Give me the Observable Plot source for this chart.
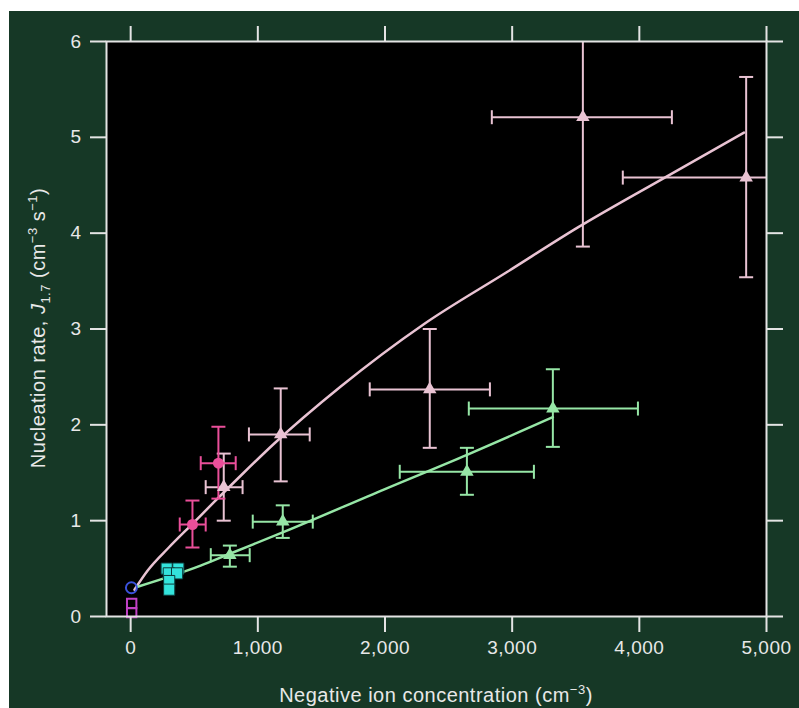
<!DOCTYPE html>
<html><head><meta charset="utf-8">
<script src="https://cdn.jsdelivr.net/npm/d3@7"></script>
<script src="https://cdn.jsdelivr.net/npm/@observablehq/plot@0.6"></script>
<style>
html,body{margin:0;padding:0;background:#fff;}
#chart{position:absolute;left:9px;top:11px;width:790px;height:697px;background:#163826;}
</style></head><body><div id="chart"></div>
<script>
// ---- data ----
const xTicks = [0, 1000, 2000, 3000, 4000, 5000];
const yTicks = [0, 1, 2, 3, 4, 5, 6];

// pink triangles (with error bars)
const pinkX   = [1180, 732, 2352, 3556, 4840];
const pinkY   = [1.90, 1.35, 2.37, 5.21, 4.58];
const pinkXLo = [930, 590, 1880, 2840, 3870];
const pinkXHi = [1408, 880, 2825, 4256, 5150];
const pinkYLo = [1.41, 1.00, 1.76, 3.86, 3.54];
const pinkYHi = [2.38, 1.70, 3.00, 6.30, 5.63];

// magenta circles
const magX   = [486, 690];
const magY   = [0.96, 1.60];
const magXLo = [386, 551];
const magXHi = [590, 826];
const magYLo = [0.72, 1.23];
const magYHi = [1.21, 1.98];

// green triangles
const grnX   = [780, 1196, 2644, 3320];
const grnY   = [0.64, 0.99, 1.51, 2.17];
const grnXLo = [630, 960, 2116, 2659];
const grnXHi = [936, 1432, 3171, 3989];
const grnYLo = [0.52, 0.82, 1.27, 1.77];
const grnYHi = [0.74, 1.16, 1.76, 2.58];

// cyan squares
const cyanX = [283, 375, 300, 365, 303, 303];
const cyanY = [0.50, 0.50, 0.45, 0.45, 0.37, 0.28];

// blue open circle
const blueX = [6];
const blueY = [0.30];

// purple open squares
const purpX = [8, 8];
const purpY = [0.135, 0.04];

// pink fitted curve
const pinkCurveX = [30, 134, 300, 488, 653, 889, 1125, 1652, 2305, 2966, 3517, 4200, 4823];
const pinkCurveY = [0.28, 0.48, 0.72, 0.97, 1.19, 1.50, 1.80, 2.40, 3.05, 3.60, 4.06, 4.58, 5.05];

// green fitted line
const grnLineX = [55, 550, 790, 1200, 2000, 2650, 3320];
const grnLineY = [0.31, 0.53, 0.66, 0.88, 1.33, 1.69, 2.08];

// ---- colours ----
const C = {
  pink: "#e9c3d3", magenta: "#ea4f9a", green: "#96e6a6",
  cyan: "#33e3dc", blue: "#3b52dc", purple: "#c141c6",
  axis: "#e4e4e4"
};

const rows = (xs, ys, xl, xh, yl, yh) => xs.map((x, i) => ({x, y: ys[i], xl: xl[i], xh: xh[i], yl: yl[i], yh: yh[i]}));
const pink = rows(pinkX, pinkY, pinkXLo, pinkXHi, pinkYLo, pinkYHi);
const mag = rows(magX, magY, magXLo, magXHi, magYLo, magYHi);
const grn = rows(grnX, grnY, grnXLo, grnXHi, grnYLo, grnYHi);
const pts = (xs, ys) => xs.map((x, i) => ({x, y: ys[i]}));

const hcap = {draw(ctx, size) { const r = Math.sqrt(size / Math.PI); ctx.moveTo(-r, 0); ctx.lineTo(r, 0); }};
const vcap = {draw(ctx, size) { const r = Math.sqrt(size / Math.PI); ctx.moveTo(0, -r); ctx.lineTo(0, r); }};

function errMarks(data, color) {
  return [
    Plot.link(data, {x1: "x", x2: "x", y1: "yl", y2: "yh", stroke: color, strokeWidth: 2, clip: true}),
    Plot.link(data, {x1: "xl", x2: "xh", y1: "y", y2: "y", stroke: color, strokeWidth: 2, clip: true}),
    Plot.dot(data, {x: "x", y: "yl", symbol: hcap, r: 7, stroke: color, fill: "none", strokeWidth: 2, clip: true}),
    Plot.dot(data, {x: "x", y: "yh", symbol: hcap, r: 7, stroke: color, fill: "none", strokeWidth: 2, clip: true}),
    Plot.dot(data, {x: "xl", y: "y", symbol: vcap, r: 7, stroke: color, fill: "none", strokeWidth: 2, clip: true}),
    Plot.dot(data, {x: "xh", y: "y", symbol: vcap, r: 7, stroke: color, fill: "none", strokeWidth: 2, clip: true})
  ];
}

const plot = Plot.plot({
  width: 790, height: 697,
  marginLeft: 97, marginTop: 30, marginRight: 33, marginBottom: 92,
  style: {background: "transparent", color: "#e8e8e8", fontFamily: "'Liberation Sans', Arial, Helvetica, sans-serif", fontSize: "19px", letterSpacing: "0.5px", overflow: "visible"},
  x: {domain: [-190, 5000]},
  y: {domain: [0, 6]},
  marks: [
    Plot.frame({fill: "black"}),
    Plot.line(pts(pinkCurveX, pinkCurveY), {x: "x", y: "y", stroke: C.pink, strokeWidth: 2.5, curve: "monotone-x"}),
    Plot.line(pts(grnLineX, grnLineY), {x: "x", y: "y", stroke: C.green, strokeWidth: 2.5, curve: "monotone-x"}),
    ...errMarks(pink, C.pink),
    ...errMarks(grn, C.green),
    ...errMarks(mag, C.magenta),
    Plot.dot(pink, {x: "x", y: "y", symbol: "triangle", r: 5, fill: C.pink}),
    Plot.dot(grn, {x: "x", y: "y", symbol: "triangle", r: 5, fill: C.green}),
    Plot.dot(mag, {x: "x", y: "y", symbol: "circle", r: 5.5, fill: C.magenta}),
    Plot.dot(pts(cyanX, cyanY), {x: "x", y: "y", symbol: "square", r: 6.3, fill: C.cyan, stroke: "#0d3a3a", strokeWidth: 1}),
    Plot.dot(pts(purpX, purpY), {x: "x", y: "y", symbol: "square", r: 5.3, fill: "none", stroke: C.purple, strokeWidth: 2}),
    Plot.dot(pts(blueX, blueY), {x: "x", y: "y", symbol: "circle", r: 5.5, fill: "none", stroke: C.blue, strokeWidth: 2}),
    Plot.axisX({anchor: "bottom", ticks: xTicks, tickFormat: d3.format(","), tickSize: 16, tickPadding: 8, strokeWidth: 2, stroke: C.axis, label: null}),
    Plot.axisX({anchor: "top", ticks: xTicks, tickFormat: () => "", tickSize: 16, strokeWidth: 2, stroke: C.axis, label: null}),
    Plot.axisY({anchor: "left", ticks: yTicks, tickFormat: d3.format("d"), tickSize: 16, tickPadding: 9, strokeWidth: 2, stroke: C.axis, label: null}),
    Plot.axisY({anchor: "right", ticks: yTicks, tickFormat: () => "", tickSize: 16, strokeWidth: 2, stroke: C.axis, label: null}),
    Plot.frame({stroke: C.axis, strokeWidth: 2})
  ]
});

document.getElementById("chart").appendChild(plot);

// axis titles with italic / sub / superscripts
const svg = d3.select(plot);
const xl = svg.append("text").attr("x", 427).attr("y", 691).attr("text-anchor", "middle")
  .attr("font-size", 20).attr("fill", "#e8e8e8");
xl.append("tspan").text("Negative ion concentration (cm");
xl.append("tspan").attr("font-size", 13).attr("dy", -8).text("−3");
xl.append("tspan").attr("dy", 8).text(")");

const yl = svg.append("text").attr("transform", "translate(36,317) rotate(-90)").attr("text-anchor", "middle")
  .attr("font-size", 20).attr("fill", "#e8e8e8");
yl.append("tspan").text("Nucleation rate, ");
yl.append("tspan").attr("font-style", "italic").text("J");
yl.append("tspan").attr("font-size", 13).attr("dy", 5).text("1.7");
yl.append("tspan").attr("dy", -5).text(" (cm");
yl.append("tspan").attr("font-size", 13).attr("dy", -8).text("−3");
yl.append("tspan").attr("dy", 8).text(" s");
yl.append("tspan").attr("font-size", 13).attr("dy", -8).text("−1");
yl.append("tspan").attr("dy", 8).text(")");
</script></body></html>
